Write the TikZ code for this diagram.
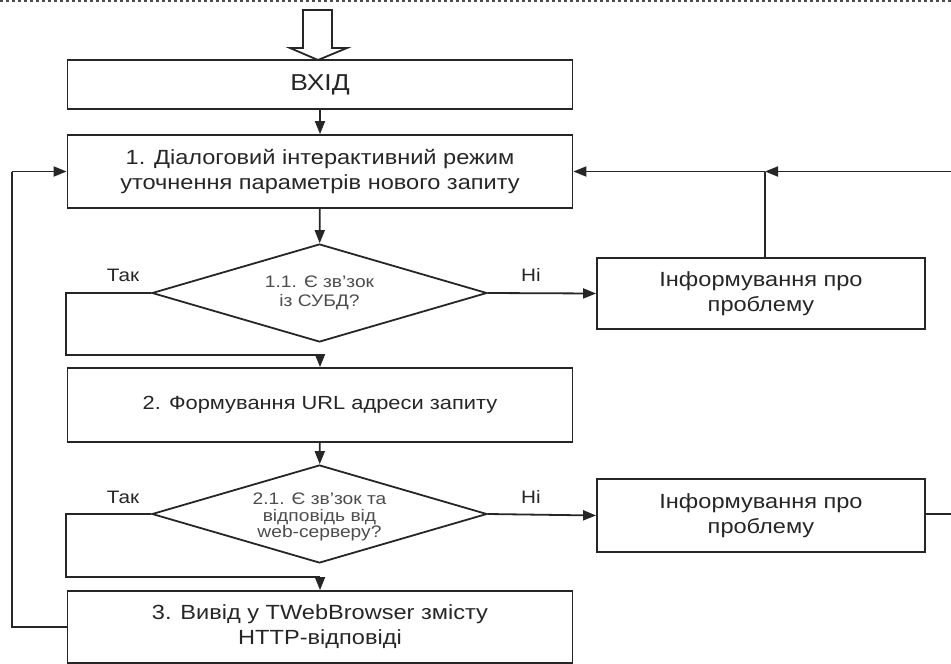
\documentclass[tikz,border=0pt]{standalone}
\usepackage{fontspec}
\setmainfont[FakeStretch=1.15]{Liberation Sans}
\usetikzlibrary{shapes.geometric,arrows.meta}
\tikzset{
  box/.style={draw=black!85, line width=1.8pt, rectangle, inner sep=0pt, align=center, font=\fontsize{20.5}{25}\selectfont, text=black!85},
  dia/.style={draw=black!85, line width=1.8pt, diamond, inner sep=0pt},
  dtext/.style={align=center, inner sep=0pt, text=black!70},
  conn/.style={line width=1.8pt, draw=black!85},
  arr/.style={conn, -{Triangle[length=13pt,width=10pt]}},
  lbl/.style={font=\fontsize{18}{22}\selectfont, text=black!85, inner sep=0pt}
}
\begin{document}
\begin{tikzpicture}[x=1pt,y=-1pt]
\useasboundingbox (0,0) rectangle (951,664);
\draw[black!70, line width=1.2pt, dash pattern=on 3pt off 3pt] (0,1) -- (951,1);
\draw[line width=1.8pt, draw=black!85, fill=white] (303,10) -- (332,10) -- (332,48) -- (347,48) -- (318,60) -- (290,48) -- (303,48) -- cycle;
\node[box, minimum width=505pt, minimum height=49pt, font=\fontsize{23}{27}\selectfont] (vxid) at (320,84.5) {ВХІД};
\node[box, minimum width=505pt, minimum height=73pt] (b1) at (320,171.5) {1. Діалоговий інтерактивний режим\\уточнення параметрів нового запиту};
\node[dia, minimum width=335pt, minimum height=98pt] (d1) at (319.5,293) {};
\node[dtext, font=\fontsize{16.7}{19}\selectfont] (d1t) at (d1.center) {1.1. Є зв'зок\\із СУБД?};
\node[box, minimum width=505pt, minimum height=74pt, font=\fontsize{19}{25}\selectfont] (b2) at (320,405) {2. Формування URL адреси запиту};
\node[dia, minimum width=335pt, minimum height=98pt] (d2) at (319.5,514) {};
\node[dtext, font=\fontsize{16.7}{16.8}\selectfont] (d2t) at (319.5,517) {2.1. Є зв'зок та\\відповідь від\\web-серверу?};
\node[box, minimum width=505pt, minimum height=72pt] (b3) at (320,627) {3. Вивід у TWebBrowser змісту\\HTTP-відповіді};
\node[box, minimum width=328pt, minimum height=71pt] (i1) at (761,293.5) {Інформування про\\проблему};
\node[box, minimum width=328pt, minimum height=73pt] (i2) at (761,515.5) {Інформування про\\проблему};
\node[lbl] (t1) at (123,275) {Так};
\node[lbl] (n1) at (531,275) {Ні};
\node[lbl] (t2) at (123,497) {Так};
\node[lbl] (n2) at (531,497) {Ні};
\coordinate (j1) at (320,355);
\coordinate (j2) at (320,577);
\coordinate (up) at (765,171.5);
\coordinate (re1) at (951,171.5);
\coordinate (re2) at (951,514);
\coordinate (lx) at (12,627);
\draw[arr] (vxid) -- (b1);
\draw[arr] (b1) -- (d1);
\draw[conn] (d1.west) -- ++(-85,0) |- (j1);
\draw[arr] (j1) -- (b2);
\draw[arr] (d1.east) -- (i1.west);
\draw[conn] (i1.north -| up) -- (up);
\draw[arr] (up) -- (b1.east);
\draw[arr] (re1) -- (up);
\draw[arr] (b2) -- (d2);
\draw[conn] (d2.west) -- ++(-85,0) |- (j2);
\draw[arr] (j2) -- (b3);
\draw[arr] (d2.east) -- (i2.west);
\draw[conn] (i2.east |- re2) -- (re2);
\draw[conn] (b3.west) -- (lx) -- (lx |- b1.west);
\draw[arr] (lx |- b1.west) -- (b1.west);
\end{tikzpicture}
\end{document}
